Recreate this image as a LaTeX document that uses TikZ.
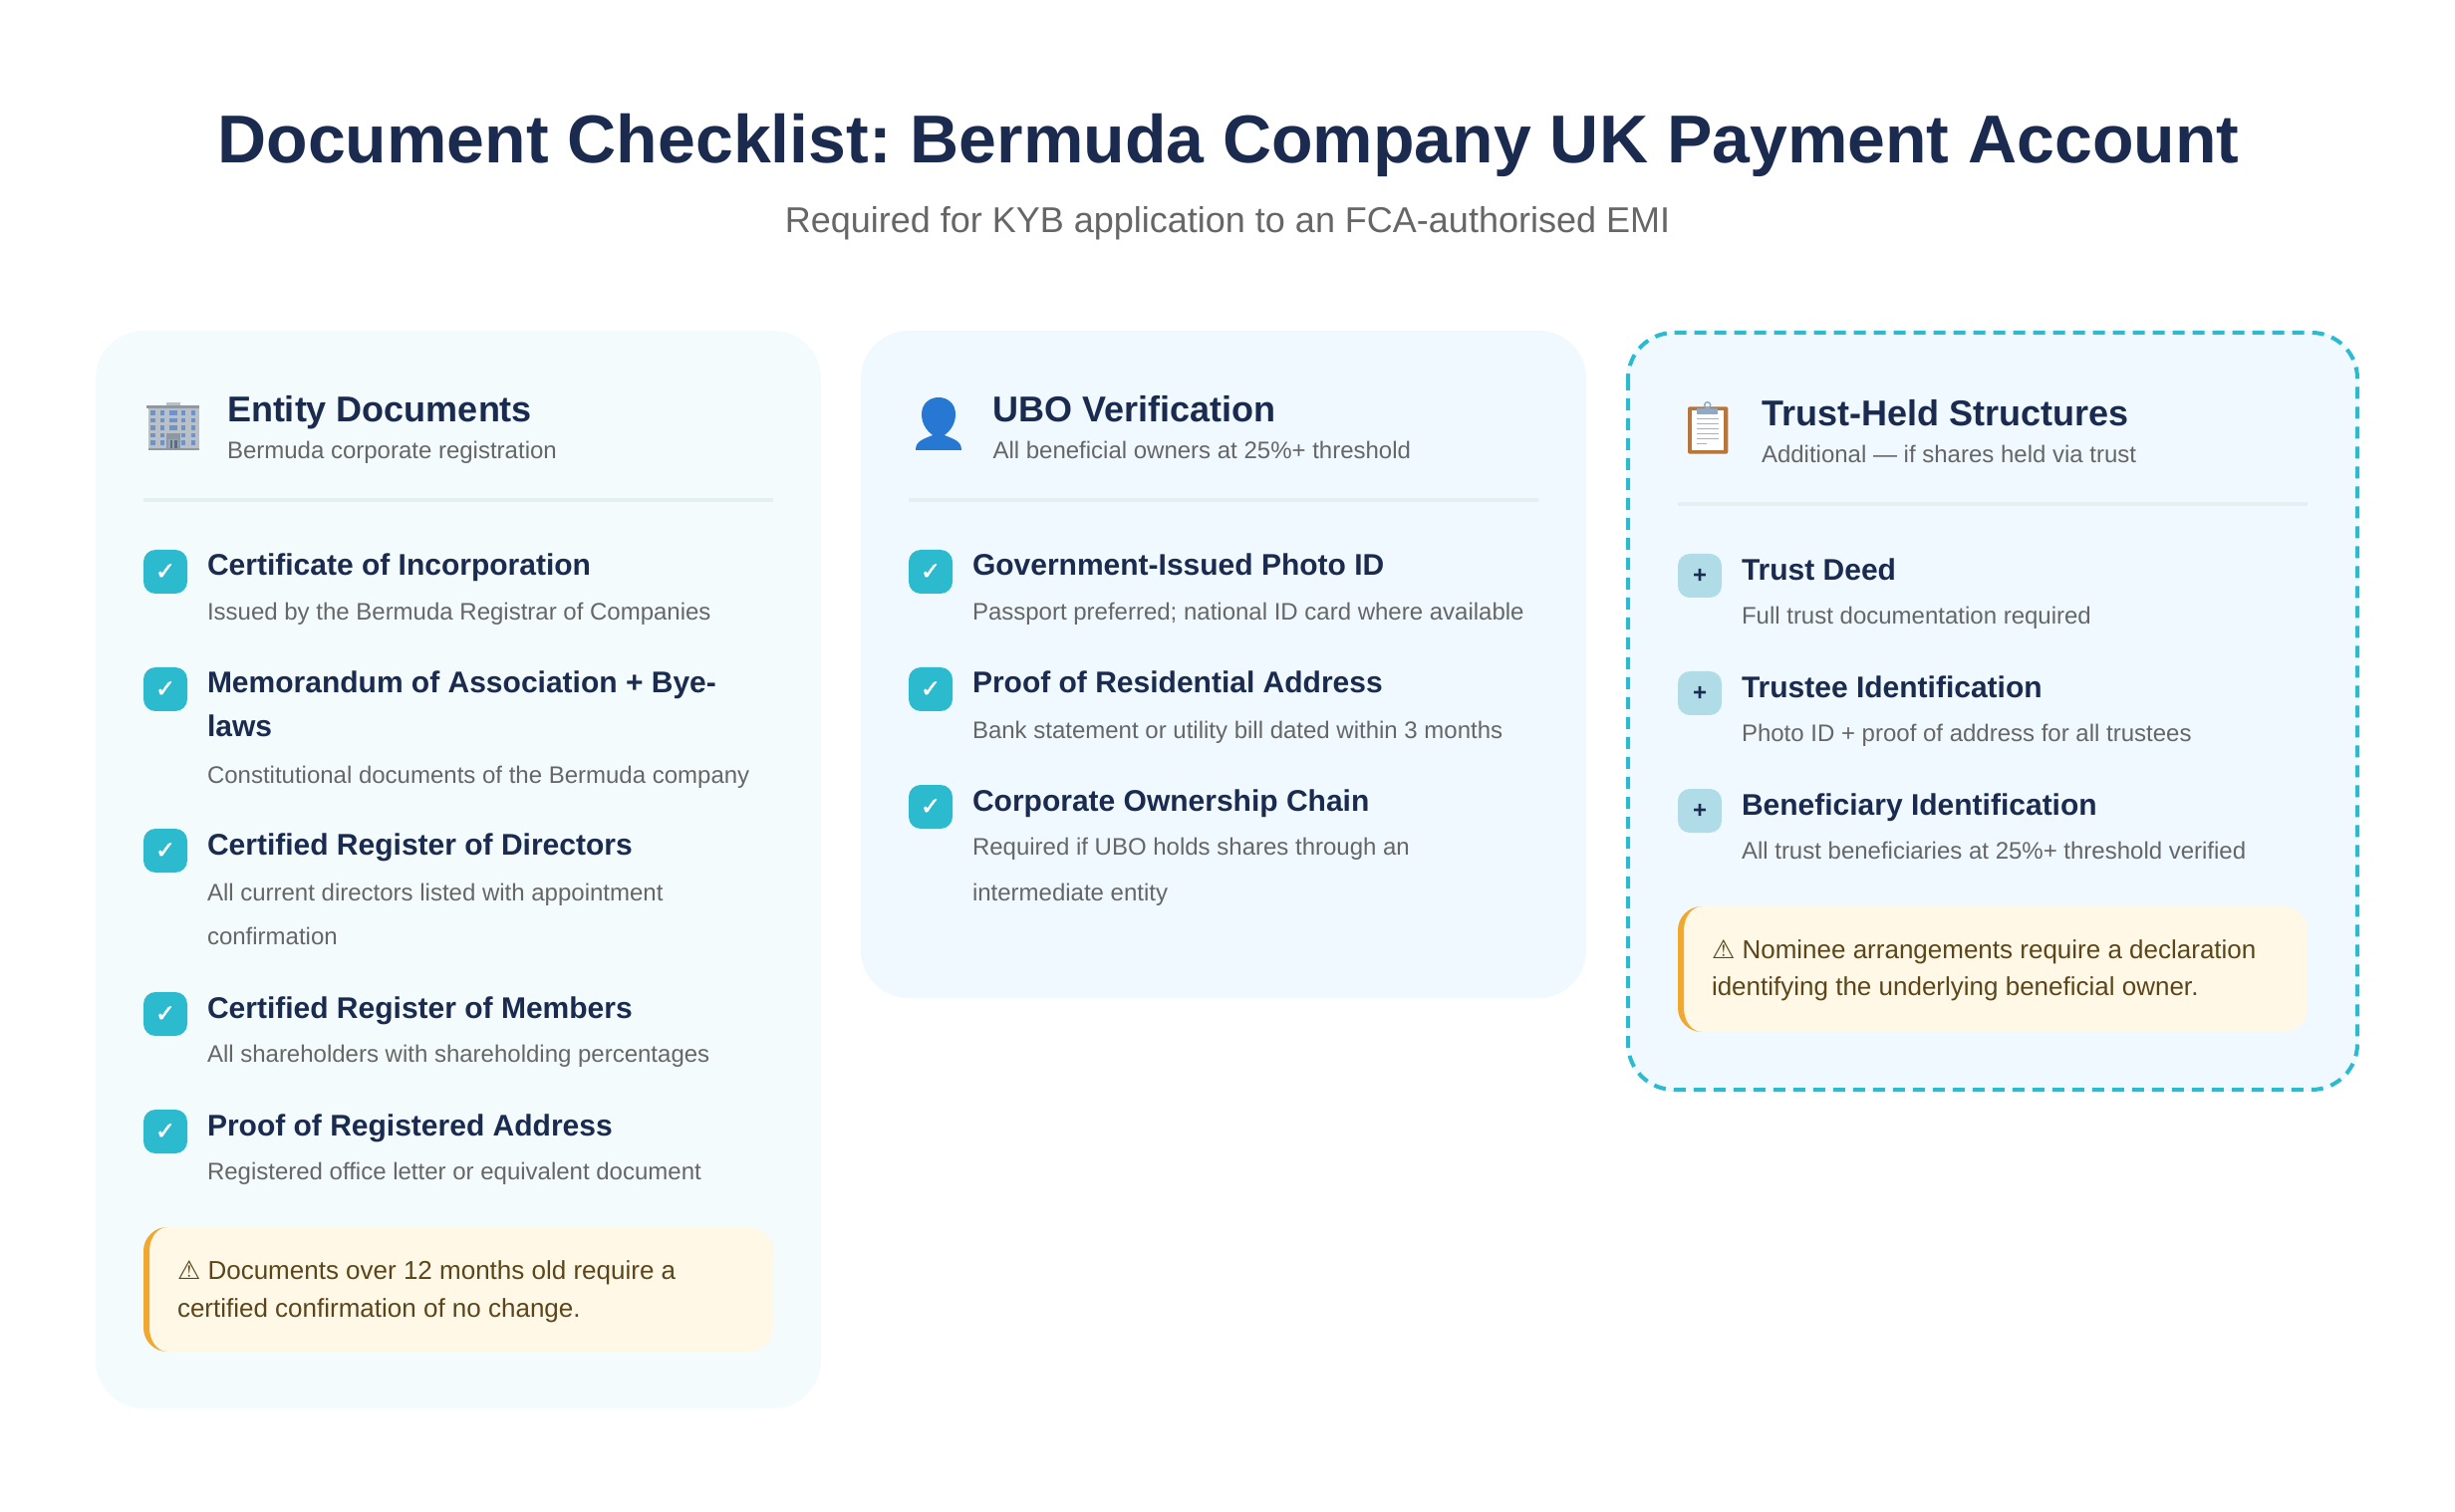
\documentclass[tikz,border=0pt]{standalone}
\usepackage{fontspec}
\setmainfont{Liberation Sans}
\newfontfamily\djv{DejaVu Sans}
\newfontfamily\djvb[FakeBold=2]{DejaVu Sans}
\definecolor{navy}{HTML}{1A2B4F}
\definecolor{greytxt}{HTML}{666666}
\definecolor{teal}{HTML}{2CBBCE}
\definecolor{plusbg}{HTML}{B0DCE8}
\definecolor{cardA}{HTML}{F4FBFD}
\definecolor{cardB}{HTML}{F0F9FF}
\definecolor{rulec}{HTML}{E4EFF1}
\definecolor{notebg}{HTML}{FFF8E7}
\definecolor{noteedge}{HTML}{F0A830}
\definecolor{notetxt}{HTML}{5C4518}
\definecolor{bldg}{HTML}{B9C0C8}
\definecolor{bldgdark}{HTML}{8F979F}
\definecolor{win}{HTML}{6D93C8}
\definecolor{person}{HTML}{2678D2}
\definecolor{board}{HTML}{B8763A}
\definecolor{clipc}{HTML}{8FA9C4}
\definecolor{paperline}{HTML}{A9B2BC}
\frenchspacing
\tikzset{
  txt/.style={inner sep=0pt,outer sep=0pt,anchor=base west},
  maintitle/.style={inner sep=0pt,anchor=base,font=\fontsize{34}{40}\selectfont\bfseries,text=navy},
  subtitle/.style={inner sep=0pt,anchor=base,font=\fontsize{18}{22}\selectfont,text=greytxt},
  headtitle/.style={txt,font=\fontsize{18}{22}\selectfont\bfseries,text=navy},
  headsub/.style={txt,font=\fontsize{12}{16}\selectfont,text=greytxt},
  itemtitle/.style={txt,font=\fontsize{15}{20}\selectfont\bfseries,text=navy},
  itemdesc/.style={txt,font=\fontsize{12}{16}\selectfont,text=greytxt},
  notetext/.style={txt,font=\fontsize{13}{18}\selectfont,text=notetxt},
  boxbase/.style={rounded corners=6pt},
  tick/.style={inner sep=0pt,font=\djvb\fontsize{12}{12}\selectfont,text=white},
  plus/.style={inner sep=0pt,font=\fontsize{12}{12}\selectfont\bfseries,text=navy},
}
% #1 name, #2 x, #3 top y
\newcommand{\tickbox}[3]{\fill[teal,boxbase] (#2,#3) rectangle ++(44,44);\node[tick] (#1) at (#2+22,#3+22) {✓};}
\newcommand{\plusbox}[3]{\fill[plusbg,boxbase] (#2,#3) rectangle ++(44,44);\node[plus] (#1) at (#2+22,#3+22) {+};}
% #1 left #2 right #3 top #4 bottom
\newcommand{\notebox}[4]{%
  \fill[notebg,rounded corners=12pt] (#1,#3) rectangle (#2,#4);
  \fill[noteedge] (#1+24,#3) .. controls (#1+10.7,#3) and (#1,#3+10.7) .. (#1,#3+24)
     -- (#1,#4-24) .. controls (#1,#4-10.7) and (#1+10.7,#4) .. (#1+24,#4)
     .. controls (#1+14,#4) and (#1+6,#4-10.7) .. (#1+6,#4-24)
     -- (#1+6,#3+24) .. controls (#1+6,#3+10.7) and (#1+14,#3) .. (#1+24,#3) -- cycle;}
\newcommand{\warn}{{\djv\fontsize{13}{13}\selectfont ⚠}}
\begin{document}
\begin{tikzpicture}[x=0.5pt,y=-0.5pt]
\useasboundingbox (0,0) rectangle (2464,1518);
\fill[white] (0,0) rectangle (2464,1518);

\node[maintitle] (title) at (1233,164) {Document Checklist: Bermuda Company UK Payment Account};
\node[subtitle] (sub) at (1232,234) {Required for KYB application to an FCA-authorised EMI};

% cards
\fill[cardA,rounded corners=24pt] (96,332) rectangle (824,1414);
\fill[cardB,rounded corners=24pt] (864,332) rectangle (1592,1002);
\fill[cardB,rounded corners=24pt] (1632,332) rectangle (2368,1096);
\draw[teal,line width=2pt,rounded corners=23pt,dash pattern=on 6pt off 4pt] (1634,334) rectangle (2366,1094);

% ---------- building icon
\fill[bldg] (148.5,407) rectangle (199.5,452);
\fill[bldg] (167,404) rectangle (181,407);
\fill[bldgdark] (147,407) rectangle (200,410);
\fill[bldgdark] (148.5,450) rectangle (199.5,452);
\foreach \wy in {414.7,422,429.7,437.3,444.7}{
  \foreach \wx in {153.7,163,184,194}{
    \fill[win] (\wx-2.3,\wy-2.2) rectangle (\wx+2.3,\wy+2.2);
  }
}
\foreach \wy in {414.7,422,429.7}{\fill[win] (173.7-4,\wy-2.2) rectangle (173.7+4,\wy+2.2);}
\fill[bldgdark] (167,435) rectangle (181,451);
\fill[clipc] (169,441) rectangle (179,450);
\fill[bldgdark!70!black] (170.5,442) rectangle (173,450);
\fill[bldgdark!70!black] (175,442) rectangle (177.5,450);

% ---------- person icon
\fill[person] (942,399) .. controls (951,399) and (959,405) .. (959,416)
  .. controls (959,427) and (952,436) .. (942,440)
  .. controls (932,436) and (925,427) .. (925,416)
  .. controls (925,405) and (933,399) .. (942,399) -- cycle;
\fill[person] (919,452) .. controls (919,443) and (926,441) .. (936,437) -- (948,437)
  .. controls (958,441) and (965,443) .. (965,452) -- cycle;

% ---------- clipboard icon
\fill[board,rounded corners=1pt] (1694,408.3) rectangle (1734.3,455.7);
\fill[white] (1698,411.7) rectangle (1730,451.7);
\fill[clipc] (1703.3,410) rectangle (1724.3,415.7);
\draw[clipc,line width=0.7pt] (1713.7,406.7) circle (3);
\foreach \ly in {420.3,425.3,430.3,435.7,440.7}{\fill[paperline] (1702.7,\ly-0.5) rectangle (1725,\ly+0.5);}
\fill[paperline] (1702.7,445.5) rectangle (1712.7,446.5);

% ---------- card 1
\node[headtitle] (h1) at (228,424) {Entity Documents};
\node[headsub] (h1s) at (228,461) {Bermuda corporate registration};
\fill[rulec] (144,500) rectangle (776,504);

\tickbox{k1}{144}{552}
\node[itemtitle] (a1) at (208,578) {Certificate of Incorporation};
\node[itemdesc] (a1d) at (208,623) {Issued by the Bermuda Registrar of Companies};
\tickbox{k2}{144}{670}
\node[itemtitle] (a2) at (208,696) {Memorandum of Association + Bye-};
\node[itemtitle] (a2b) at (208,740) {laws};
\node[itemdesc] (a2d) at (208,786) {Constitutional documents of the Bermuda company};
\tickbox{k3}{144}{832}
\node[itemtitle] (a3) at (208,858) {Certified Register of Directors};
\node[itemdesc] (a3d) at (208,904) {All current directors listed with appointment};
\node[itemdesc] (a3e) at (208,948) {confirmation};
\tickbox{k4}{144}{996}
\node[itemtitle] (a4) at (208,1022) {Certified Register of Members};
\node[itemdesc] (a4d) at (208,1066) {All shareholders with shareholding percentages};
\tickbox{k5}{144}{1114}
\node[itemtitle] (a5) at (208,1140) {Proof of Registered Address};
\node[itemdesc] (a5d) at (208,1184) {Registered office letter or equivalent document};

\notebox{144}{776}{1232}{1357}
\node[notetext] (n1) at (178,1284) {\warn{} Documents over 12 months old require a};
\node[notetext] (n1b) at (178,1322) {certified confirmation of no change.};

% ---------- card 2
\node[headtitle] (h2) at (996.5,424) {UBO Verification};
\node[headsub] (h2s) at (996.5,461) {All beneficial owners at 25\%+ threshold};
\fill[rulec] (912,500) rectangle (1544,504);

\tickbox{k6}{912}{552}
\node[itemtitle] (b1) at (976,578) {Government-Issued Photo ID};
\node[itemdesc] (b1d) at (976,623) {Passport preferred; national ID card where available};
\tickbox{k7}{912}{670}
\node[itemtitle] (b2) at (976,696) {Proof of Residential Address};
\node[itemdesc] (b2d) at (976,741) {Bank statement or utility bill dated within 3 months};
\tickbox{k8}{912}{788}
\node[itemtitle] (b3) at (976,814) {Corporate Ownership Chain};
\node[itemdesc] (b3d) at (976,858) {Required if UBO holds shares through an};
\node[itemdesc] (b3e) at (976,904) {intermediate entity};

% ---------- card 3
\node[headtitle] (h3) at (1768,428) {Trust-Held Structures};
\node[headsub] (h3s) at (1768,465) {Additional — if shares held via trust};
\fill[rulec] (1684,504) rectangle (2316,508);

\plusbox{p1}{1684}{556}
\node[itemtitle] (c1) at (1748,583) {Trust Deed};
\node[itemdesc] (c1d) at (1748,627) {Full trust documentation required};
\plusbox{p2}{1684}{674}
\node[itemtitle] (c2) at (1748,701) {Trustee Identification};
\node[itemdesc] (c2d) at (1748,745) {Photo ID + proof of address for all trustees};
\plusbox{p3}{1684}{792}
\node[itemtitle] (c3) at (1748,818) {Beneficiary Identification};
\node[itemdesc] (c3d) at (1748,862) {All trust beneficiaries at 25\%+ threshold verified};

\notebox{1684}{2316}{910}{1036}
\node[notetext] (n2) at (1718,962) {\warn{} Nominee arrangements require a declaration};
\node[notetext] (n2b) at (1718,999) {identifying the underlying beneficial owner.};
\end{tikzpicture}
\end{document}
